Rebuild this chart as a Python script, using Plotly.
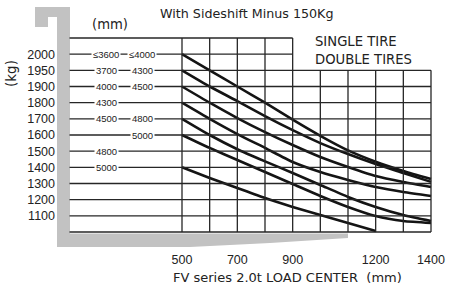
import numpy as np
import plotly.graph_objects as go

W, H = 453, 288

# ---------------- data ----------------
# y-axis rows (kg) bottom to top, with the stretched 1900-2000 section
y_tick_kg = [1100, 1200, 1300, 1400, 1500, 1600, 1700, 1800, 1900, 1950, 2000]
y_tick_text = ["1100", "1200", "1300", "1400", "1500", "1600", "1700", "1800", "1900", "1950", "2000"]
# scale used by the chart: kg value -> grid row
scale_kg = [1000, 1100, 1200, 1300, 1400, 1500, 1600, 1700, 1800, 1900, 1950, 2000, 2050]
scale_row = [0, 1, 2, 3, 4, 5, 6, 7, 8, 9, 10, 11, 12]

x_tick_vals = [500, 700, 900, 1200, 1400]
x_tick_text = ["500", "700", "900", "1200", "1400"]
x_grid_vals = [500, 600, 700, 800, 900, 1000, 1100, 1200, 1300, 1400]

load_center = [500, 600, 700, 800, 900, 1000, 1100, 1200, 1300, 1400]
cap_2000 = [2000, 1950, 1900, 1800, 1695, 1595, 1505, 1435, 1378, 1328]
cap_1950 = [1950, 1900, 1810, 1717, 1630, 1550, 1482, 1420, 1365, 1310]
cap_1900 = [1900, 1800, 1705, 1618, 1538, 1464, 1402, 1346, 1309, 1278]
cap_1800 = [1800, 1700, 1606, 1520, 1433, 1371, 1322, 1278, 1247, 1223]
cap_1700 = [1700, 1600, 1512, 1437, 1365, 1291, 1217, 1155, 1105, 1068]
cap_1600 = [1600, 1520, 1445, 1371, 1297, 1223, 1155, 1099, 1068, 1056]
load_center_short = [500, 600, 700, 800, 900, 1000, 1100, 1200]
cap_1400 = [1400, 1334, 1272, 1210, 1155, 1105, 1056, 1006]

# mast-height labels (mm) beside the capacity rows
mast1_kg = [2000, 1950, 1900, 1800, 1700, 1500, 1400]
mast1_text = ["≤3600", "3700", "4000", "4300", "4500", "4800", "5000"]
mast2_kg = [2000, 1950, 1900, 1700, 1600]
mast2_text = ["≤4000", "4300", "4500", "4800", "5000"]

# ---------------- geometry ----------------
ML, MB = 56, 40
PW, PH = W - ML, H - MB
PX_PER_MM = 249 / 900.0
PX_PER_ROW = 194 / 12.0
X500_PX, ROW0_PX = 182, 232
x_range = [500 + (ML - X500_PX) / PX_PER_MM, 500 + (W - X500_PX) / PX_PER_MM]
y_range = [(ROW0_PX - PH) / PX_PER_ROW, ROW0_PX / PX_PER_ROW]
LEFT_MM = 500 + (69.5 - X500_PX) / PX_PER_MM
COL1_MM = 500 + (106 - X500_PX) / PX_PER_MM
COL2_MM = 500 + (142 - X500_PX) / PX_PER_MM


def row(kg):
    return np.interp(kg, scale_kg, scale_row)


def px(x):
    return (x - ML) / PW


def py(y):
    return (PH - y) / PH


LINE = "#262626"
TXT = "#222222"
COND = "DejaVu Sans"
NARROW = "Liberation Sans, Arial"

fig = go.Figure()

curves = [(load_center, cap_2000), (load_center, cap_1950), (load_center, cap_1900),
          (load_center, cap_1800), (load_center, cap_1700), (load_center, cap_1600),
          (load_center_short, cap_1400)]
for xs, ys in curves:
    fig.add_trace(go.Scatter(x=xs, y=row(ys), mode="lines", cliponaxis=False,
                             line=dict(color="#141414", width=2.6, shape="spline", smoothing=0.6),
                             hoverinfo="skip", showlegend=False))

shapes = []
# gray frame
pts = [(35, 7), (70, 7), (70, 233.5), (348, 233.5), (348, 238), (270, 243), (190, 247),
       (57, 247), (57, 17), (48, 17), (48, 27), (35, 27)]
path = "M " + " L ".join(f"{px(a):.5f},{py(b):.5f}" for a, b in pts) + " Z"
shapes.append(dict(type="path", xref="paper", yref="paper", path=path,
                   fillcolor="#c2c2c2", line=dict(width=0), layer="below"))

# grid: horizontal lines
top_row = scale_row[-1]
for r in range(0, top_row + 1):
    x_end = 900 if r > row(1950) else 1400
    shapes.append(dict(type="line", xref="x", yref="y", x0=LEFT_MM, x1=x_end, y0=r, y1=r,
                       line=dict(color=LINE, width=1.3)))
# grid: vertical lines
for xv in x_grid_vals:
    r_top = top_row if xv <= 900 else row(1950)
    shapes.append(dict(type="line", xref="x", yref="y", x0=xv, x1=xv, y0=0, y1=r_top,
                       line=dict(color=LINE, width=1.3)))

ann = []
for kg, t in zip(mast1_kg, mast1_text):
    ann.append(dict(x=COL1_MM, y=row(kg), xref="x", yref="y", text=t, showarrow=False,
                    bgcolor="white", borderpad=1, font=dict(family=NARROW, size=9.5, color=TXT)))
for kg, t in zip(mast2_kg, mast2_text):
    ann.append(dict(x=COL2_MM, y=row(kg), xref="x", yref="y", text=t, showarrow=False,
                    bgcolor="white", borderpad=1, font=dict(family=NARROW, size=9.5, color=TXT)))

ann.append(dict(x=px(158), y=py(13.5), xref="paper", yref="paper", xanchor="left", yanchor="middle",
                text="With Sideshift Minus 150Kg", showarrow=False,
                font=dict(family=COND, size=12.7, color=TXT)))
ann.append(dict(x=px(110), y=py(24.5), xref="paper", yref="paper", xanchor="center", yanchor="middle",
                text="(mm)", showarrow=False, font=dict(family=COND, size=13.2, color=TXT)))
ann.append(dict(x=px(11), y=py(74), xref="paper", yref="paper", xanchor="center", yanchor="middle",
                text="(kg)", textangle=-90, showarrow=False, font=dict(family=COND, size=13.5, color=TXT)))
ann.append(dict(x=px(313), y=py(41.5), xref="paper", yref="paper", xanchor="left", yanchor="middle",
                text="SINGLE TIRE", showarrow=False, font=dict(family=COND, size=13.2, color=TXT)))
ann.append(dict(x=px(313), y=py(59.5), xref="paper", yref="paper", xanchor="left", yanchor="middle",
                text="DOUBLE TIRES", showarrow=False, font=dict(family=COND, size=13.2, color=TXT)))
ann.append(dict(x=px(287.5), y=py(277), xref="paper", yref="paper", xanchor="center", yanchor="middle",
                text="FV series 2.0t LOAD CENTER\u00a0\u00a0(mm)", showarrow=False,
                font=dict(family=COND, size=13, color=TXT)))

fig.update_layout(
    width=W, height=H,
    margin=dict(l=ML, r=0, t=0, b=MB, pad=0, autoexpand=False),
    paper_bgcolor="white", plot_bgcolor="rgba(0,0,0,0)",
    shapes=shapes, annotations=ann, showlegend=False,
    xaxis=dict(range=x_range, tickvals=x_tick_vals, ticktext=x_tick_text, showgrid=False,
               zeroline=False, showline=False, ticks="", ticklabelstandoff=2, automargin=False,
               tickfont=dict(family=NARROW, size=12.5, color=TXT), fixedrange=True),
    yaxis=dict(range=y_range, tickvals=list(row(y_tick_kg)), ticktext=y_tick_text, showgrid=False,
               zeroline=False, showline=False, ticks="", ticklabelstandoff=0, automargin=False,
               tickfont=dict(family=NARROW, size=12.5, color=TXT), fixedrange=True),
)

fig.write_html("out.html", config={"displayModeBar": False},
               post_script="document.body.style.margin='0';document.body.style.overflow='hidden';")
